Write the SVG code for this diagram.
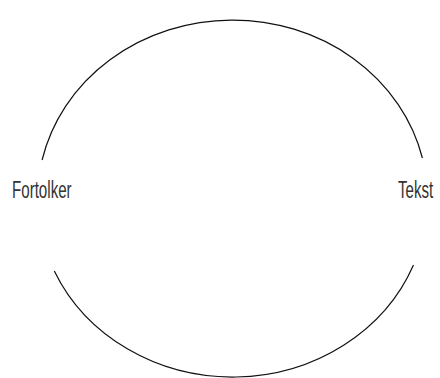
<svg xmlns="http://www.w3.org/2000/svg" width="440" height="378" viewBox="0 0 440 378">
<style>
.arc{fill:none;stroke:#111;stroke-width:1.2}
.lbl{font-family:"Liberation Sans",Arial,sans-serif;font-size:24px;fill:#333}
</style>
<rect width="440" height="378" fill="#fff"/>
<g id="connectors">
<path class="arc" d="M42.1,160 A195,178.5 0 0 1 422.4,158"/>
<path class="arc" d="M54.3,271 A195,178.5 0 0 0 413.5,265"/>
</g>
<g id="fortolker"><text class="lbl" transform="translate(12,198) scale(0.63,1)">Fortolker</text></g>
<g id="tekst"><text class="lbl" transform="translate(398,198) scale(0.63,1)">Tekst</text></g>
</svg>
